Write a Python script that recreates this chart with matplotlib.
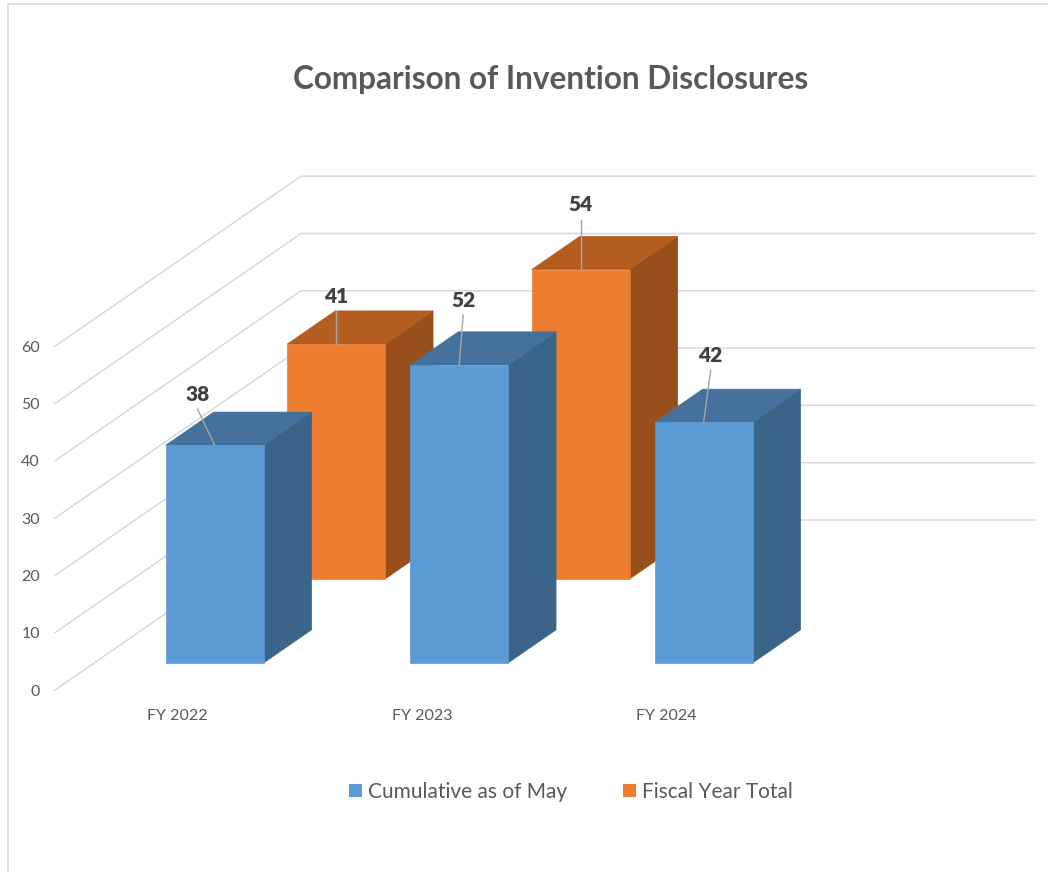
"""
Comparison of invention disclosures, drawn as a fake 3D column chart.
matplotlib's own 3D axes can't do this oblique view, so the columns are
projected by hand onto a plain axes that is measured in pixels.
"""

import matplotlib
matplotlib.use("Agg")
import matplotlib.pyplot as plt
from matplotlib.patches import Patch, Polygon

categories = ["FY 2022", "FY 2023", "FY 2024"]
cumulative_may = [38, 52, 42]
fiscal_year_total = [41, 54, None]
y_ticks = [0, 10, 20, 30, 40, 50, 60]

# view geometry, in pixels
ORIGIN_X = 55
ORIGIN_Y = 690
CATEGORY_W = 244.5
UNIT_H = 5.73
DEPTH_X = 246
DEPTH_Y = 170
BAR_W = 0.4
BAR_D = 0.195
BAR_SHIFT = -0.007
BLUE_DEPTH = 0.159
ORANGE_DEPTH = 0.653

BLUE = ("#5B9AD5", "#44729D", "#3A6589")
ORANGE = ("#ED7D31", "#B35E20", "#994F1B")
GRID = "#D9D9D9"
TEXT = "#595959"
LABEL = "#404040"
LEADER = "#A6A6A6"
FONT = "Lato"


def project(x, value, depth):
    """category position, value and depth (0 front, 1 back) to pixels"""
    px = ORIGIN_X + x * CATEGORY_W + depth * DEPTH_X
    py = ORIGIN_Y - value * UNIT_H - depth * DEPTH_Y
    return px, py


def draw_bar(ax, index, value, depth, colors):
    x0 = index + 0.5 + BAR_SHIFT - BAR_W / 2
    x1 = x0 + BAR_W
    d0 = depth
    d1 = depth + BAR_D
    front = [project(x0, 0, d0), project(x1, 0, d0), project(x1, value, d0), project(x0, value, d0)]
    top = [project(x0, value, d0), project(x1, value, d0), project(x1, value, d1), project(x0, value, d1)]
    side = [project(x1, 0, d0), project(x1, 0, d1), project(x1, value, d1), project(x1, value, d0)]
    for points, color in zip((side, top, front), (colors[2], colors[1], colors[0])):
        ax.add_patch(Polygon(points, closed=True, facecolor=color, edgecolor=color, linewidth=0.5))


fig = plt.figure(figsize=(10.48, 8.72), dpi=100)
ax = fig.add_axes([0, 0, 1, 1])
ax.set_xlim(0, 1048)
ax.set_ylim(872, 0)
ax.axis("off")

# outer frame, it runs off the right and bottom of the picture
ax.plot([7.5, 7.5, 1048], [872, 4.5, 4.5], color="#D9D9D9", linewidth=1.2)

ax.text(551, 80, "Comparison of Invention Disclosures", ha="center", va="center",
        fontsize=22.7, fontweight="bold", color=TEXT, family=FONT)

# floor/side grid lines and back wall lines
for tick in y_ticks:
    front_pt = project(0, tick, 0)
    back_pt = project(0, tick, 1)
    end_pt = project(3, tick, 1)
    ax.plot([front_pt[0], back_pt[0], end_pt[0]], [front_pt[1], back_pt[1], end_pt[1]],
            color=GRID, linewidth=1.1, zorder=1)
    ax.text(40, front_pt[1] + 1.5, str(tick), ha="right", va="center",
            fontsize=11.5, color=TEXT, family=FONT)

for i, name in enumerate(categories):
    ax.text(project(i + 0.5, 0, 0)[0], 716, name, ha="center", va="center",
            fontsize=11.5, color=TEXT, family=FONT)

# back row first, the front row covers it
for i, value in enumerate(fiscal_year_total):
    if value is not None:
        draw_bar(ax, i, value, ORANGE_DEPTH, ORANGE)
for i, value in enumerate(cumulative_may):
    draw_bar(ax, i, value, BLUE_DEPTH, BLUE)

# data labels were dragged by hand in the original, so each has its own offset
blue_offsets = [(-17, -36), (4, -50), (7, -52)]
orange_offsets = [(0, -33), (0, -50), None]
for row, depth, offsets in ((cumulative_may, BLUE_DEPTH, blue_offsets),
                            (fiscal_year_total, ORANGE_DEPTH, orange_offsets)):
    for i, value in enumerate(row):
        if value is None:
            continue
        base = project(i + 0.5 + BAR_SHIFT, value, depth)
        tip = (base[0] + offsets[i][0], base[1] + offsets[i][1])
        ax.plot([base[0], tip[0]], [base[1], tip[1]], color=LEADER, linewidth=1, zorder=5)
        ax.text(tip[0], tip[1] - 15, str(value), ha="center", va="center",
                fontsize=15, fontweight="heavy", color=LABEL, family=FONT, zorder=6)

handles = [Patch(facecolor=BLUE[0], label="Cumulative as of May"),
           Patch(facecolor=ORANGE[0], label="Fiscal Year Total")]
ax.legend(handles=handles, loc="center", bbox_to_anchor=(571, 792), bbox_transform=ax.transData,
          ncol=2, frameon=False, handlelength=0.6, handleheight=0.6, handletextpad=0.3,
          columnspacing=2.7, labelcolor=TEXT, prop={"family": FONT, "size": 15})

fig.savefig("out.png", dpi=100)
